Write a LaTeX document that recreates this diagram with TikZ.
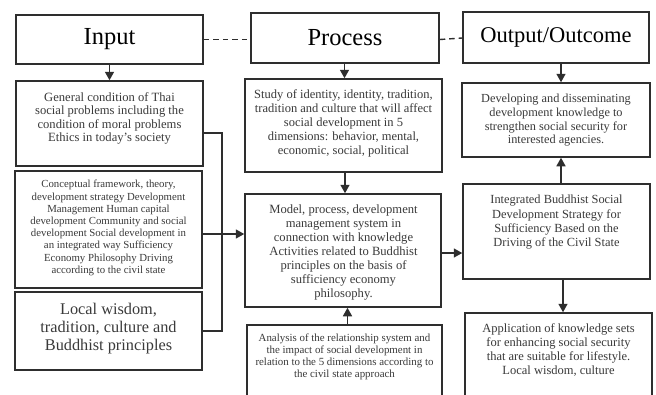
\documentclass[tikz,border=0pt]{standalone}
\usepackage{fontspec}
\setmainfont{Liberation Serif}
\usetikzlibrary{fit,arrows.meta}
\definecolor{linec}{HTML}{2E2E2E}
\definecolor{txtc}{HTML}{3A3A3A}
\tikzset{
  box/.style={draw=linec, line width=1.5pt, inner sep=0pt, fill=none},
  title/.style={inner sep=0pt, text=black, font=\fontsize{24.5}{28}\selectfont},
  txt/.style={inner sep=0pt, anchor=north, align=center, text=txtc},
  arr/.style={draw=linec, line width=1.5pt, -{Triangle[length=8.5pt,width=9pt]}},
  conn/.style={draw=linec, line width=1.5pt},
  dash line/.style={draw=linec, line width=1.4pt, dash pattern=on 5.5pt off 4pt},
}
\begin{document}
\begin{tikzpicture}[x=1pt,y=-1pt]
\clip (0,0) rectangle (656,394);
\fill[white] (0,0) rectangle (656,394);
% corner coordinates
\coordinate (i1) at (16,15);   \coordinate (i2) at (203,64);
\coordinate (p1) at (251,13);  \coordinate (p2) at (439,63);
\coordinate (o1) at (463,12);  \coordinate (o2) at (649,63);
\coordinate (a1) at (16,81);   \coordinate (a2) at (203,166);
\coordinate (b1) at (15,171);  \coordinate (b2) at (202,288);
\coordinate (c1) at (15,292);  \coordinate (c2) at (202,370);
\coordinate (s1) at (245,79);  \coordinate (s2) at (442,172);
\coordinate (m1) at (245,194); \coordinate (m2) at (441,307);
\coordinate (n1) at (247,325); \coordinate (n2) at (442,410);
\coordinate (d1) at (462,83);  \coordinate (d2) at (650,157);
\coordinate (g1) at (463,184); \coordinate (g2) at (650,279);
\coordinate (h1) at (465,313); \coordinate (h2) at (652,410);
% boxes
\node[box, fit=(i1)(i2)] (input) {};
\node[box, fit=(p1)(p2)] (process) {};
\node[box, fit=(o1)(o2)] (output) {};
\node[box, fit=(a1)(a2)] (boxA) {};
\node[box, fit=(b1)(b2)] (boxB) {};
\node[box, fit=(c1)(c2)] (boxC) {};
\node[box, fit=(s1)(s2)] (study) {};
\node[box, fit=(m1)(m2)] (model) {};
\node[box, fit=(n1)(n2)] (analysis) {};
\node[box, fit=(d1)(d2)] (dev) {};
\node[box, fit=(g1)(g2)] (integ) {};
\node[box, fit=(h1)(h2)] (appl) {};
% titles
\node[title] (tIn) at (input.center) {Input};
\node[title] (tPr) at (process.center) {Process};
\node[title, font=\fontsize{22.5}{26}\selectfont] (tOut) at (output.center) {Output/Outcome};
% texts
\node[txt, font=\fontsize{12.6}{13.6}\selectfont] (tA) at (109.5,92)
 {General condition of Thai\\social problems including the\\condition of moral problems\\Ethics in today's society};
\node[txt, font=\fontsize{10.8}{12.2}\selectfont] (tB) at (108.5,180)
 {Conceptual framework, theory,\\development strategy Development\\Management Human capital\\development Community and social\\development Social development in\\an integrated way Sufficiency\\Economy Philosophy Driving\\according to the civil state};
\node[txt, font=\fontsize{16.3}{17.8}\selectfont] (tC) at (108.5,303)
 {Local wisdom,\\tradition, culture and\\Buddhist principles};
\node[txt, font=\fontsize{12.5}{14.1}\selectfont] (tS) at (343.5,89)
 {Study of identity, identity, tradition,\\tradition and culture that will affect\\social development in 5\\dimensions: behavior, mental,\\economic, social, political};
\node[txt, font=\fontsize{12.6}{14}\selectfont] (tM) at (343.5,205)
 {Model, process, development\\management system in\\connection with knowledge\\Activities related to Buddhist\\principles on the basis of\\sufficiency economy\\philosophy.};
\node[txt, font=\fontsize{10.9}{12}\selectfont] (tN) at (344.5,334)
 {Analysis of the relationship system and\\the impact of social development in\\relation to the 5 dimensions according to\\the civil state approach};
\node[txt, font=\fontsize{12.3}{13.7}\selectfont] (tD) at (556,94)
 {Developing and disseminating\\development knowledge to\\strengthen social security for\\interested agencies.};
\node[txt, font=\fontsize{12.4}{14.2}\selectfont] (tG) at (556.5,195)
 {Integrated Buddhist Social\\Development Strategy for\\Sufficiency Based on the\\Driving of the Civil State};
\node[txt, font=\fontsize{12.5}{14.3}\selectfont] (tH) at (558.5,323)
 {Application of knowledge sets\\for enhancing social security\\that are suitable for lifestyle.\\Local wisdom, culture};
% dashed links
\draw[dash line] (input.east) -- (input.east -| process.west);
\draw[dash line] (process.east |- input.east) -- (process.east -| output.west) ;
% arrows
\draw[arr] (input.south) -- (boxA.north);
\draw[arr] ([xshift=-0.5pt]process.south) -- ([xshift=-0.5pt]process.south |- study.north);
\draw[arr] ([xshift=1.5pt]study.south) -- ([xshift=1.5pt]study.south |- model.north);
\draw[arr] ([xshift=3pt]analysis.north) -- ([xshift=3pt]analysis.north |- model.south);
\draw[arr] ([xshift=5pt]output.south) -- ([xshift=5pt]output.south |- dev.north);
\draw[arr] ([xshift=4.5pt]integ.north) -- ([xshift=4.5pt]integ.north |- dev.south);
\draw[arr] ([xshift=6.5pt]integ.south) -- ([xshift=6.5pt]integ.south |- appl.north);
\draw[arr] ([yshift=-2.5pt]model.east) -- ([yshift=-2.5pt]model.east -| integ.west);
% left bracket connector
\coordinate (jA) at ([yshift=-9.5pt]boxA.east);
\coordinate (jC) at ([yshift=-0pt]boxC.east);
\coordinate (jx) at (222,0);
\draw[conn] (jA) -- (jA -| jx) -- (jC -| jx) -- (jC);
\draw[arr] ([yshift=-4.5pt]boxB.east) -- ([yshift=-4.5pt]boxB.east -| model.west);
\end{tikzpicture}
\end{document}
